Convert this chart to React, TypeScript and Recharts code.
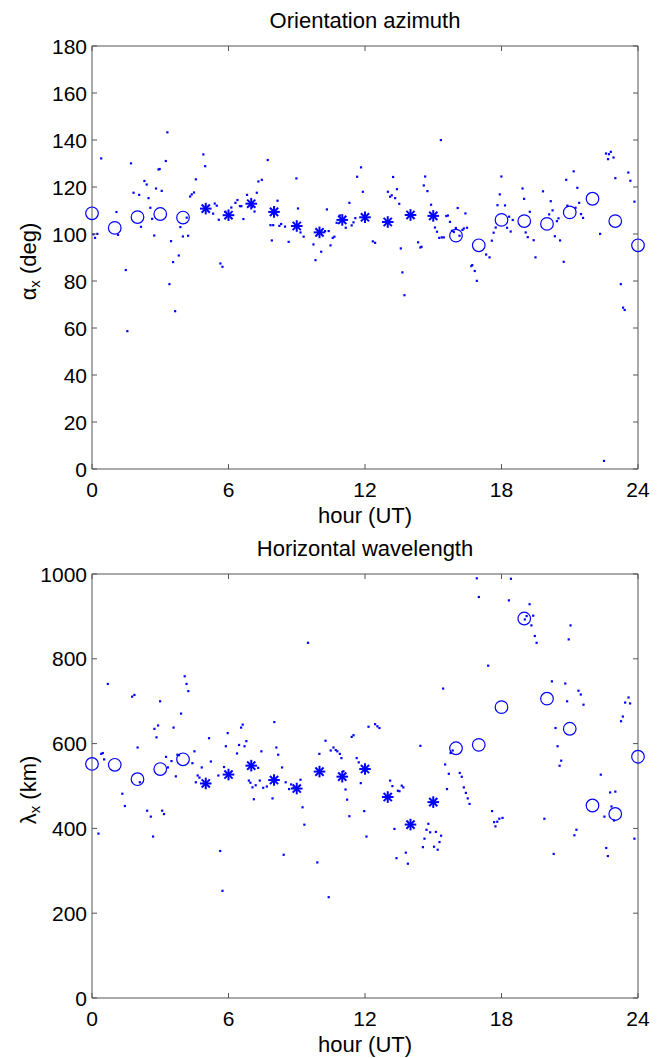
import React from "react";
import { ScatterChart, Scatter, XAxis, YAxis, ReferenceArea, Label } from "recharts";

const FONT = "'Liberation Sans', Arial, Helvetica, sans-serif";
const BLUE = "#0000ff";
const AXIS = "#555555";

// hourly means, 0..24 UT
const hours = [0, 1, 2, 3, 4, 5, 6, 7, 8, 9, 10, 11, 12, 13, 14, 15, 16, 17, 18, 19, 20, 21, 22, 23, 24];
const starHours = [5, 6, 7, 8, 9, 10, 11, 12, 13, 14, 15];
const azimuthMeans = [108.8, 102.6, 107.2, 108.5, 107, 110.8, 108, 112.9, 109.4, 103.4, 100.7, 106, 107.1, 105.1, 108.1, 107.7, 99.3, 95.2, 106, 105.5, 104.3, 109.2, 115, 105.5, 95.2];
const wavelengthMeans = [552, 550, 516, 540, 563, 506, 527, 548, 514, 494, 534, 522, 540, 474, 409, 462, 589, 597, 686, 895, 706, 635, 454, 434, 569];

const hourTicks = [0, 6, 12, 18, 24];
const azimuthTicks = [0, 20, 40, 60, 80, 100, 120, 140, 160, 180];
const wavelengthTicks = [0, 200, 400, 600, 800, 1000];

// individual events [hour, value]
const azimuthDots: [number, number][] = [
  [0.06, 99.9], [0.13, 98.4], [0.23, 100.1], [0.4, 132.2], [1.07, 109.4], [1.14, 99.7], [1.48, 84.7], [1.55, 58.7],
  [1.71, 130.1], [1.82, 117.6], [2.07, 116.7], [2.15, 103.1], [2.3, 122.6], [2.4, 121.1], [2.48, 115.3], [2.56, 111.2],
  [2.64, 106.5], [2.73, 99.4], [2.81, 119.4], [2.92, 127.5], [2.97, 127.7], [3.06, 118.4], [3.24, 131.1], [3.31, 143.3],
  [3.4, 78.7], [3.47, 97], [3.56, 88.1], [3.65, 67.2], [3.81, 90.9], [3.88, 103], [3.99, 99], [4.16, 107], [4.22, 99.3],
  [4.31, 116], [4.38, 116.9], [4.48, 117.7], [4.56, 123.3], [4.89, 133.9], [4.97, 128.9], [5.32, 108.7], [5.39, 113],
  [5.48, 112.1], [5.57, 106.1], [5.64, 87.5], [5.73, 86.1], [5.86, 109.5], [6.12, 111.3], [6.3, 113.3], [6.39, 114.5],
  [6.5, 111.9], [6.56, 111.9], [6.65, 106.4], [6.81, 116.7], [7.03, 111.6], [7.14, 109.6], [7.24, 117.6], [7.31, 122.4],
  [7.46, 123.1], [7.72, 131.5], [7.84, 103.8], [7.9, 97.3], [7.96, 103.8], [8.15, 114.2], [8.23, 103.5], [8.31, 104.3],
  [8.48, 103.2], [8.64, 96.7], [8.98, 123.7], [9.05, 110.9], [9.16, 100.7], [9.3, 98.9], [9.73, 95.6], [9.82, 88.9],
  [10.07, 92.5], [10.24, 101.3], [10.32, 110.5], [10.4, 101.3], [10.48, 95.2], [10.58, 98.4], [10.65, 98.9], [10.75, 104.8],
  [10.89, 107.9], [11.15, 102.7], [11.31, 113.3], [11.41, 103.7], [11.49, 105], [11.57, 106.8], [11.65, 124.4], [11.82, 128.4],
  [11.9, 118], [12.34, 96.9], [12.44, 96.3], [13.0, 118], [13.1, 115.9], [13.17, 116.5], [13.23, 124.3], [13.32, 115.3],
  [13.4, 119.1], [13.5, 112.9], [13.57, 93.9], [13.64, 83.7], [13.73, 74], [14.33, 96.5], [14.43, 94.3], [14.48, 94.6],
  [14.58, 120.7], [14.64, 124.5], [14.74, 118.3], [14.9, 112.5], [15.07, 102.8], [15.16, 101], [15.26, 98.4], [15.33, 140],
  [15.37, 98.6], [15.46, 98.6], [15.57, 107.7], [15.64, 107.9], [15.73, 105.2], [15.82, 101.4], [15.9, 100.9], [15.99, 102.6],
  [16.07, 111.1], [16.15, 99.3], [16.28, 101.8], [16.34, 102.4], [16.41, 108.8], [16.48, 102.7], [16.67, 86.4], [16.71, 86.8],
  [16.82, 84.3], [16.91, 80.1], [17.32, 91.3], [17.47, 90.1], [17.57, 97.2], [17.65, 100.6], [17.74, 102.8], [17.82, 112.3],
  [17.92, 116.9], [17.99, 124.5], [18.15, 112.2], [18.24, 102.7], [18.33, 107.4], [18.4, 101.1], [18.49, 106], [18.92, 119.4],
  [18.99, 115], [19.06, 100.7], [19.15, 98.7], [19.24, 109.5], [19.41, 97.4], [19.49, 90.1], [19.82, 118.2], [20.09, 108.4],
  [20.16, 114], [20.24, 110.1], [20.34, 99.1], [20.43, 105.5], [20.5, 106.7], [20.57, 97.3], [20.73, 88.2], [20.84, 123.1],
  [20.89, 112.1], [21.17, 126.7], [21.25, 111.2], [21.33, 119.7], [21.41, 113.3], [21.49, 108.5], [21.58, 106.9], [22.33, 100.1],
  [22.5, 3.5], [22.59, 134.3], [22.68, 131.9], [22.72, 134], [22.8, 135], [22.92, 132.6], [23.0, 123.8], [23.24, 78.7],
  [23.34, 68.7], [23.41, 67.7], [23.57, 126.2], [23.66, 122.7], [23.84, 113.8],
];

const wavelengthDots: [number, number][] = [
  [0.28, 388], [0.4, 576], [0.47, 578], [0.53, 563], [0.69, 741], [1.33, 482], [1.44, 453], [1.76, 711], [1.86, 715],
  [2.0, 591], [2.1, 509], [2.42, 442], [2.58, 428], [2.68, 381], [2.74, 635], [2.83, 615], [2.9, 643], [2.99, 700],
  [3.08, 442], [3.16, 434], [3.25, 569], [3.33, 544], [3.49, 559], [3.58, 638], [3.68, 523], [3.75, 574], [3.82, 573],
  [3.91, 671], [4.07, 759], [4.15, 741], [4.23, 724], [4.41, 554], [4.5, 582], [4.56, 509], [4.64, 525], [4.72, 520],
  [4.82, 544], [5.14, 613], [5.22, 558], [5.55, 525], [5.63, 347], [5.73, 253], [5.8, 545], [5.88, 594], [5.96, 625],
  [6.37, 577], [6.46, 597], [6.55, 638], [6.62, 645], [6.7, 594], [6.78, 606], [6.89, 513], [6.96, 508], [7.05, 497],
  [7.11, 469], [7.19, 502], [7.3, 543], [7.37, 513], [7.44, 582], [7.52, 496], [7.68, 499], [7.93, 471], [8.01, 651],
  [8.1, 591], [8.18, 574], [8.35, 544], [8.42, 338], [8.51, 509], [8.66, 493], [8.75, 504], [8.85, 496], [9.16, 515],
  [9.25, 450], [9.33, 409], [9.49, 838], [9.9, 320], [9.99, 576], [10.26, 607], [10.4, 238], [10.49, 584], [10.61, 591],
  [10.71, 585], [10.78, 582], [10.89, 576], [10.96, 566], [11.05, 535], [11.14, 492], [11.21, 468], [11.31, 429],
  [11.41, 616], [11.49, 620], [11.63, 566], [11.72, 556], [11.81, 507], [11.96, 441], [12.06, 381], [12.15, 640],
  [12.44, 646], [12.54, 641], [12.63, 637], [13.1, 513], [13.2, 500], [13.29, 399], [13.38, 330], [13.44, 489],
  [13.51, 488], [13.61, 501], [13.68, 497], [13.79, 343], [13.88, 317], [14.43, 595], [14.54, 356], [14.61, 376],
  [14.7, 397], [14.78, 411], [14.86, 391], [15.03, 357], [15.11, 392], [15.19, 350], [15.27, 368], [15.34, 383],
  [15.43, 730], [15.52, 551], [15.6, 493], [15.68, 529], [15.76, 578], [15.85, 584], [16.16, 531], [16.25, 522],
  [16.34, 497], [16.43, 484], [16.51, 471], [16.59, 458], [16.91, 990], [17.0, 946], [17.41, 784], [17.58, 441],
  [17.67, 415], [17.73, 405], [17.81, 416], [17.9, 423], [18.04, 425], [18.32, 938], [18.41, 989], [19.02, 893],
  [19.1, 901], [19.23, 929], [19.31, 879], [19.39, 902], [19.46, 854], [19.54, 838], [19.88, 423], [20.21, 747],
  [20.29, 340], [20.37, 637], [20.46, 594], [20.55, 548], [20.62, 560], [20.8, 742], [20.88, 700], [20.95, 846],
  [21.03, 879], [21.2, 384], [21.29, 397], [21.38, 725], [21.48, 716], [21.6, 692], [22.36, 527], [22.52, 428],
  [22.6, 354], [22.67, 335], [22.77, 485], [22.83, 452], [22.94, 419], [23.0, 487], [23.25, 653], [23.33, 664],
  [23.43, 697], [23.58, 709], [23.65, 695], [23.84, 376],
];

const Dot = (p: any) => <rect x={p.cx - 1} y={p.cy - 1} width={2.2} height={2.2} fill={BLUE} />;

const Ring = (p: any) => (
  <circle cx={p.cx} cy={p.cy} r={6.3} fill="none" stroke={BLUE} strokeWidth={1.2} />
);

const Star = (p: any) => {
  const a = 5.8;
  const d = 4.1;
  return (
    <g stroke={BLUE} strokeWidth={2}>
      <line x1={p.cx - a} x2={p.cx + a} y1={p.cy} y2={p.cy} />
      <line x1={p.cx} x2={p.cx} y1={p.cy - a} y2={p.cy + a} />
      <line x1={p.cx - d} x2={p.cx + d} y1={p.cy - d} y2={p.cy + d} />
      <line x1={p.cx - d} x2={p.cx + d} y1={p.cy + d} y2={p.cy - d} />
    </g>
  );
};

const PLOT_LEFT = 92;
const PLOT_RIGHT = 638;

interface PanelProps {
  title: string;
  symbol: string;
  unit: string;
  yMax: number;
  yTicks: number[];
  dots: [number, number][];
  means: number[];
  height: number;
  plotTop: number;
  plotBottom: number;
  top: number;
}

const Panel = ({ title, symbol, unit, yMax, yTicks, dots, means, height, plotTop, plotBottom, top }: PanelProps) => {
  const dotData = dots.map(([h, v]) => ({ h, v }));
  const meanData = hours.map((h, i) => ({ h, v: means[i] }));
  const starData = meanData.filter((d) => starHours.includes(d.h));
  const ringData = meanData.filter((d) => !starHours.includes(d.h));

  const xTick = (p: any) => (
    <g>
      <line x1={p.x} x2={p.x} y1={plotBottom} y2={plotBottom - 5} stroke={AXIS} />
      <line x1={p.x} x2={p.x} y1={plotTop} y2={plotTop + 5} stroke={AXIS} />
      <text x={p.x} y={plotBottom + 28} textAnchor="middle" fontSize={21} fontFamily={FONT} fill="#000">
        {p.payload.value}
      </text>
    </g>
  );

  const yTick = (p: any) => (
    <g>
      <line x1={PLOT_LEFT} x2={PLOT_LEFT + 5} y1={p.y} y2={p.y} stroke={AXIS} />
      <line x1={PLOT_RIGHT} x2={PLOT_RIGHT - 5} y1={p.y} y2={p.y} stroke={AXIS} />
      <text x={PLOT_LEFT - 5} y={p.y + 7.5} textAnchor="end" fontSize={21} fontFamily={FONT} fill="#000">
        {p.payload.value}
      </text>
    </g>
  );

  const midY = (plotTop + plotBottom) / 2 + 4;

  return (
    <div style={{ position: "absolute", left: 0, top }}>
      <ScatterChart width={663} height={height} margin={{ top: plotTop, right: 663 - PLOT_RIGHT, bottom: 0, left: 0 }}>
        <XAxis
          type="number"
          dataKey="h"
          domain={[0, 24]}
          ticks={hourTicks}
          height={height - plotBottom}
          axisLine={false}
          tickLine={false}
          tick={xTick}
          interval={0}
        >
          <Label
            content={() => (
              <text x={(PLOT_LEFT + PLOT_RIGHT) / 2} y={plotBottom + 54} textAnchor="middle" fontSize={22} fontFamily={FONT} fill="#000">
                hour (UT)
              </text>
            )}
          />
        </XAxis>
        <YAxis
          type="number"
          dataKey="v"
          domain={[0, yMax]}
          ticks={yTicks}
          width={PLOT_LEFT}
          axisLine={false}
          tickLine={false}
          tick={yTick}
          interval={0}
        >
          <Label
            content={() => (
              <g>
                <text
                  x={28}
                  y={midY}
                  transform={`rotate(-90, 28, ${midY})`}
                  textAnchor="middle"
                  dominantBaseline="central"
                  fontSize={22}
                  fontFamily={FONT}
                  fill="#000"
                >
                  {symbol}
                  <tspan fontSize={15} dy={6}>x</tspan>
                  <tspan dy={-6}>{` (${unit})`}</tspan>
                </text>
                <text x={(PLOT_LEFT + PLOT_RIGHT) / 2} y={plotTop - 18} textAnchor="middle" fontSize={22} fontFamily={FONT} fill="#000">
                  {title}
                </text>
              </g>
            )}
          />
        </YAxis>
        <ReferenceArea x1={0} x2={24} y1={0} y2={yMax} fill="none" stroke={AXIS} strokeWidth={1} />
        <Scatter data={dotData} shape={Dot} isAnimationActive={false} />
        <Scatter data={ringData} shape={Ring} isAnimationActive={false} />
        <Scatter data={starData} shape={Star} isAnimationActive={false} />
      </ScatterChart>
    </div>
  );
};

export default function App() {
  return (
    <div style={{ position: "absolute", left: 0, top: 0, width: 663, height: 1058, background: "#fff" }}>
      <Panel
        title="Orientation azimuth"
        symbol="α"
        unit="deg"
        yMax={180}
        yTicks={azimuthTicks}
        dots={azimuthDots}
        means={azimuthMeans}
        height={536}
        plotTop={46}
        plotBottom={469}
        top={0}
      />
      <Panel
        title="Horizontal wavelength"
        symbol="λ"
        unit="km"
        yMax={1000}
        yTicks={wavelengthTicks}
        dots={wavelengthDots}
        means={wavelengthMeans}
        height={538}
        plotTop={54}
        plotBottom={478}
        top={520}
      />
    </div>
  );
}
